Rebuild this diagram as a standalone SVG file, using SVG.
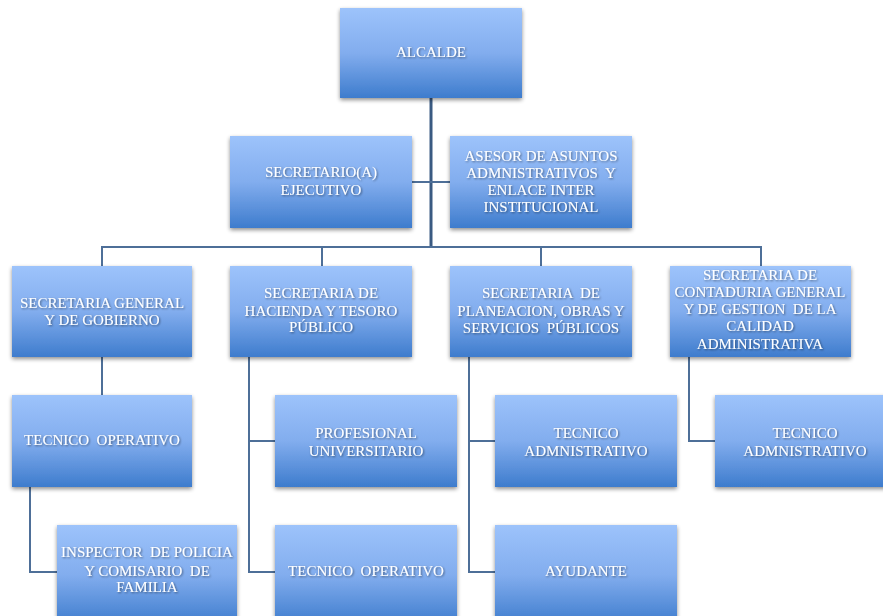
<svg xmlns="http://www.w3.org/2000/svg" width="883" height="616" viewBox="0 0 883 616">
<defs>
<linearGradient id="g" x1="0" y1="0" x2="0" y2="1">
<stop offset="0" stop-color="#9dc3fb"/>
<stop offset="0.5" stop-color="#82adee"/>
<stop offset="1" stop-color="#3e7ccd"/>
</linearGradient>
<filter id="sh" x="-10%" y="-10%" width="120%" height="125%">
<feGaussianBlur in="SourceAlpha" stdDeviation="2"/>
<feOffset dx="0" dy="2" result="b"/>
<feComponentTransfer><feFuncA type="linear" slope="0.45"/></feComponentTransfer>
<feMerge><feMergeNode/><feMergeNode in="SourceGraphic"/></feMerge>
</filter>
<filter id="ts" x="-5%" y="-20%" width="110%" height="140%">
<feGaussianBlur in="SourceAlpha" stdDeviation="0.8"/>
<feOffset dx="0.5" dy="0.8"/>
<feComponentTransfer><feFuncA type="linear" slope="0.5"/></feComponentTransfer>
<feMerge><feMergeNode/><feMergeNode in="SourceGraphic"/></feMerge>
</filter>
</defs>
<style>
.box{fill:url(#g);filter:url(#sh);}
.t{font-family:"Liberation Serif","DejaVu Serif",serif;font-size:15px;fill:#ffffff;text-anchor:middle;filter:url(#ts);white-space:pre;}
.c{fill:none;stroke:#4e6f98;stroke-width:2;}
.trunk{fill:none;stroke:#3a5a82;stroke-width:3;}
</style>
<rect width="883" height="616" fill="#ffffff"/>
<g id="connectors">
<path class="trunk" d="M431 98 V247"/>
<path class="c" d="M412 182 H450"/>
<path class="c" d="M102 266 V247 H761 V266 M322 247 V266 M541 247 V266"/>
<path class="c" d="M102 357 V395"/>
<path class="c" d="M30 487 V572 H57"/>
<path class="c" d="M249 357 V572 H275 M249 441 H275"/>
<path class="c" d="M469 357 V572 H495 M469 441 H495"/>
<path class="c" d="M689 357 V441 H715"/>
</g>
<g id="alcalde"><rect class="box" x="340" y="8" width="182" height="90"/><text class="t" x="431" y="57">ALCALDE</text></g>
<g id="secretario"><rect class="box" x="230" y="136" width="182" height="92"/><text class="t" x="321" y="177">SECRETARIO(A)</text><text class="t" x="321" y="195">EJECUTIVO</text></g>
<g id="asesor"><rect class="box" x="450" y="136" width="182" height="92"/><text class="t" x="541" y="161">ASESOR DE ASUNTOS</text><text class="t" x="541" y="178">ADMNISTRATIVOS  Y</text><text class="t" x="541" y="195">ENLACE INTER</text><text class="t" x="541" y="212">INSTITUCIONAL</text></g>
<g id="sec-general"><rect class="box" x="12" y="266" width="180" height="91"/><text class="t" x="102" y="308">SECRETARIA GENERAL</text><text class="t" x="102" y="325">Y DE GOBIERNO</text></g>
<g id="sec-hacienda"><rect class="box" x="230" y="266" width="182" height="91"/><text class="t" x="321" y="298">SECRETARIA DE</text><text class="t" x="321" y="316">HACIENDA Y TESORO</text><text class="t" x="321" y="332">PÚBLICO</text></g>
<g id="sec-planeacion"><rect class="box" x="450" y="266" width="182" height="91"/><text class="t" x="541" y="298">SECRETARIA  DE</text><text class="t" x="541" y="316">PLANEACION, OBRAS Y</text><text class="t" x="541" y="333">SERVICIOS  PÚBLICOS</text></g>
<g id="sec-contaduria"><rect class="box" x="670" y="266" width="181" height="91"/><text class="t" x="760" y="280">SECRETARIA DE</text><text class="t" x="760" y="297">CONTADURIA GENERAL</text><text class="t" x="760" y="314">Y DE GESTION  DE LA</text><text class="t" x="760" y="331">CALIDAD</text><text class="t" x="760" y="349">ADMINISTRATIVA</text></g>
<g id="tecnico-operativo-1"><rect class="box" x="12" y="395" width="180" height="92"/><text class="t" x="102" y="445">TECNICO  OPERATIVO</text></g>
<g id="profesional"><rect class="box" x="275" y="395" width="182" height="92"/><text class="t" x="366" y="438">PROFESIONAL</text><text class="t" x="366" y="456">UNIVERSITARIO</text></g>
<g id="tecnico-adm-1"><rect class="box" x="495" y="395" width="182" height="92"/><text class="t" x="586" y="438">TECNICO</text><text class="t" x="586" y="456">ADMNISTRATIVO</text></g>
<g id="tecnico-adm-2"><rect class="box" x="715" y="395" width="180" height="92"/><text class="t" x="805" y="438">TECNICO</text><text class="t" x="805" y="456">ADMNISTRATIVO</text></g>
<g id="inspector"><rect class="box" x="57" y="525" width="180" height="100"/><text class="t" x="147" y="557">INSPECTOR  DE POLICIA</text><text class="t" x="147" y="576">Y COMISARIO  DE</text><text class="t" x="147" y="592">FAMILIA</text></g>
<g id="tecnico-operativo-2"><rect class="box" x="275" y="525" width="182" height="100"/><text class="t" x="366" y="576">TECNICO  OPERATIVO</text></g>
<g id="ayudante"><rect class="box" x="495" y="525" width="182" height="100"/><text class="t" x="586" y="576">AYUDANTE</text></g>
</svg>
